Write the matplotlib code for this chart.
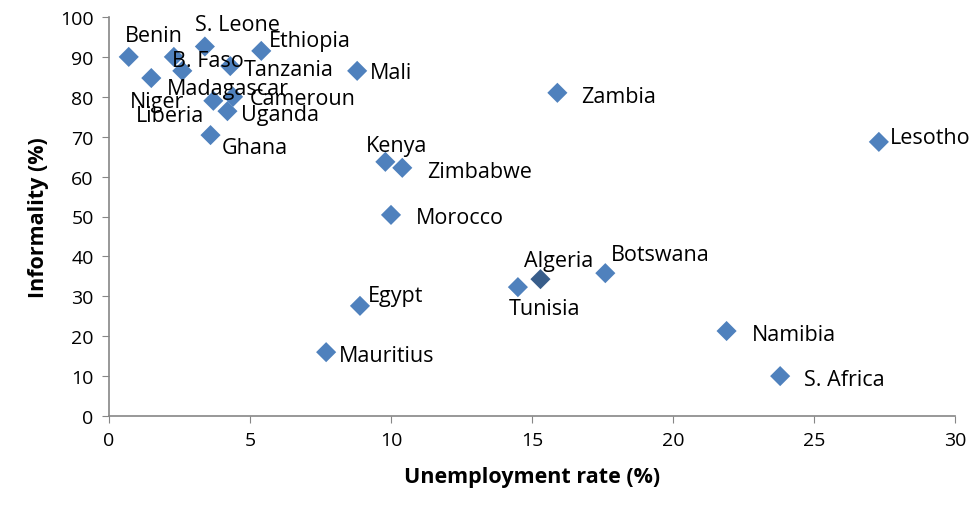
import matplotlib
matplotlib.use("Agg")
from matplotlib import pyplot as plt

plt.rcParams['font.family'] = ['Open Sans', 'DejaVu Sans']

# data
countries = ["Benin", "S. Leone", "B. Faso", "Ethiopia", "Tanzania", "Mali",
             "Madagascar", "Niger", "Cameroun", "Liberia", "Uganda", "Ghana",
             "Kenya", "Zimbabwe", "Morocco", "Zambia", "Lesotho", "Algeria",
             "Botswana", "Egypt", "Tunisia", "Mauritius", "Namibia", "S. Africa"]
unemployment = [0.7, 3.4, 2.3, 5.4, 4.3, 8.8,
                2.6, 1.5, 4.4, 3.7, 4.2, 3.6,
                9.8, 10.4, 10.0, 15.9, 27.3, 15.3,
                17.6, 8.9, 14.5, 7.7, 21.9, 23.8]
informality = [90.0, 92.6, 90.0, 91.5, 87.7, 86.5,
               86.5, 84.7, 80.0, 79.0, 76.4, 70.4,
               63.7, 62.2, 50.4, 81.0, 68.7, 34.3,
               35.8, 27.6, 32.3, 16.0, 21.3, 10.0]

# label offsets in pixels (dx, dy, ha)
offsets = {
    "Benin": (-4, 23, "left"), "S. Leone": (-10, 24, "left"),
    "B. Faso": (-2, -2, "left"), "Ethiopia": (8, 12, "left"),
    "Tanzania": (13, -1, "left"), "Mali": (13, 0, "left"),
    "Madagascar": (-15, -16, "left"), "Niger": (-21, -21, "left"),
    "Cameroun": (17, 0, "left"), "Liberia": (-9, -13, "right"),
    "Uganda": (14, -1, "left"), "Ghana": (11, -10, "left"),
    "Kenya": (-19, 18, "left"), "Zimbabwe": (25, -2, "left"),
    "Morocco": (25, -1, "left"), "Zambia": (24, -2, "left"),
    "Lesotho": (11, 6, "left"), "Algeria": (-16, 21, "left"),
    "Botswana": (6, 21, "left"), "Egypt": (8, 12, "left"),
    "Tunisia": (-9, -19, "left"), "Mauritius": (13, -1, "left"),
    "Namibia": (25, -1, "left"), "S. Africa": (24, -1, "left"),
}

fig = plt.figure(figsize=(9.79, 5.10), dpi=100)
ax = fig.add_axes([109/979, 1-417/510, (955-109)/979, (417-18)/510])

colors = ["#385D8A" if c == "Algeria" else "#4F81BD" for c in countries]
ax.scatter(unemployment, informality, marker="D", s=105, c=colors, zorder=3, linewidths=0)

for c, x, y in zip(countries, unemployment, informality):
    dx, dy, ha = offsets[c]
    ax.annotate(c, (x, y), xytext=(dx*0.72, (dy-2)*0.72), textcoords="offset points",
                ha=ha, va="center", fontsize=15.5, color="black")

ax.set_xlim(0, 30)
ax.set_ylim(0, 100)
ax.set_xticks(range(0, 31, 5))
ax.set_yticks(range(0, 101, 10))
ax.tick_params(direction="out", length=5, color="#868686", labelsize=14, pad=6)
for s in ["top", "right"]:
    ax.spines[s].set_visible(False)
for s in ["left", "bottom"]:
    ax.spines[s].set_color("#868686")
    ax.spines[s].set_linewidth(1.2)

ax.set_xlabel("Unemployment rate (%)", fontsize=15.5, fontweight="bold", labelpad=12)
ax.set_ylabel("Informality (%)", fontsize=15.5, fontweight="bold", labelpad=8)

fig.savefig("out.png", dpi=100)
